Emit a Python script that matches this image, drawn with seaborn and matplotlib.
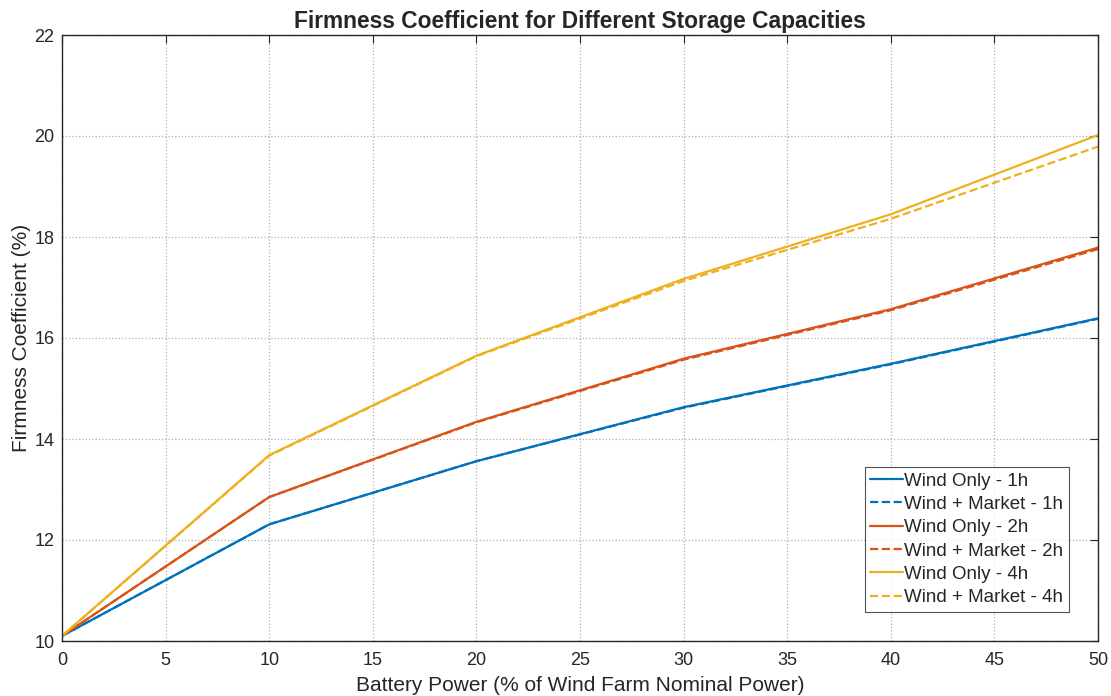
import matplotlib
matplotlib.use("Agg")
import matplotlib.pyplot as plt
import pandas as pd
import seaborn as sns

# Battery power (% of wind farm nominal power)
power = [0, 10, 20, 30, 40, 50]

# Firmness coefficient (%) per storage duration
wind_1h = [10.1, 12.31, 13.56, 14.63, 15.49, 16.39]
market_1h = [10.1, 12.31, 13.56, 14.62, 15.48, 16.38]
wind_2h = [10.1, 12.85, 14.34, 15.59, 16.57, 17.79]
market_2h = [10.1, 12.85, 14.33, 15.57, 16.55, 17.76]
wind_4h = [10.1, 13.68, 15.65, 17.17, 18.45, 20.02]
market_4h = [10.1, 13.67, 15.64, 17.13, 18.36, 19.79]

series = [
    ("Wind Only - 1h", wind_1h, "#0072BD", "-"),
    ("Wind + Market - 1h", market_1h, "#0072BD", "--"),
    ("Wind Only - 2h", wind_2h, "#D95319", "-"),
    ("Wind + Market - 2h", market_2h, "#D95319", "--"),
    ("Wind Only - 4h", wind_4h, "#EDB120", "-"),
    ("Wind + Market - 4h", market_4h, "#EDB120", "--"),
]

sns.set_style("white")
plt.rcParams["font.family"] = ["Liberation Sans", "DejaVu Sans"]

fig = plt.figure(figsize=(11.11, 6.96), dpi=100)
ax = fig.add_axes([62 / 1111, 1 - 641 / 696, (1098 - 62) / 1111, (641 - 35) / 696])

for label, values, color, style in series:
    df = pd.DataFrame({"x": power, "y": values})
    sns.lineplot(data=df, x="x", y="y", ax=ax, color=color, linestyle=style,
                 linewidth=1.6, label=label)

ax.set_xlim(0, 50)
ax.set_ylim(10, 22)
ax.set_xticks(range(0, 51, 5))
ax.set_yticks(range(10, 23, 2))
ax.grid(True, linestyle=":", color="#b0b0b0", linewidth=0.9)
for side in ["top", "right", "left", "bottom"]:
    ax.spines[side].set_visible(True)
    ax.spines[side].set_color("#262626")
    ax.spines[side].set_linewidth(1.0)
ax.tick_params(direction="in", length=6, top=True, right=True,
               labelsize=13, colors="#262626", labelcolor="#262626")
ax.tick_params(axis="x", pad=8)
ax.tick_params(axis="y", pad=5.5)

ax.set_title("Firmness Coefficient for Different Storage Capacities",
             fontsize=16.4, fontweight="bold", pad=5)
ax.set_xlabel("Battery Power (% of Wind Farm Nominal Power)", fontsize=15,
              color="#262626", labelpad=5)
ax.set_ylabel("Firmness Coefficient (%)", fontsize=15, color="#262626", labelpad=2)

leg = ax.legend(loc="lower right", bbox_to_anchor=(0.972, 0.048), fontsize=13.5,
                frameon=True, fancybox=False, edgecolor="#262626",
                handlelength=1.75, handletextpad=0.05, borderpad=0.3,
                labelspacing=0.33, borderaxespad=0.0)
leg.get_frame().set_linewidth(0.8)

fig.savefig("out.png", dpi=100)
